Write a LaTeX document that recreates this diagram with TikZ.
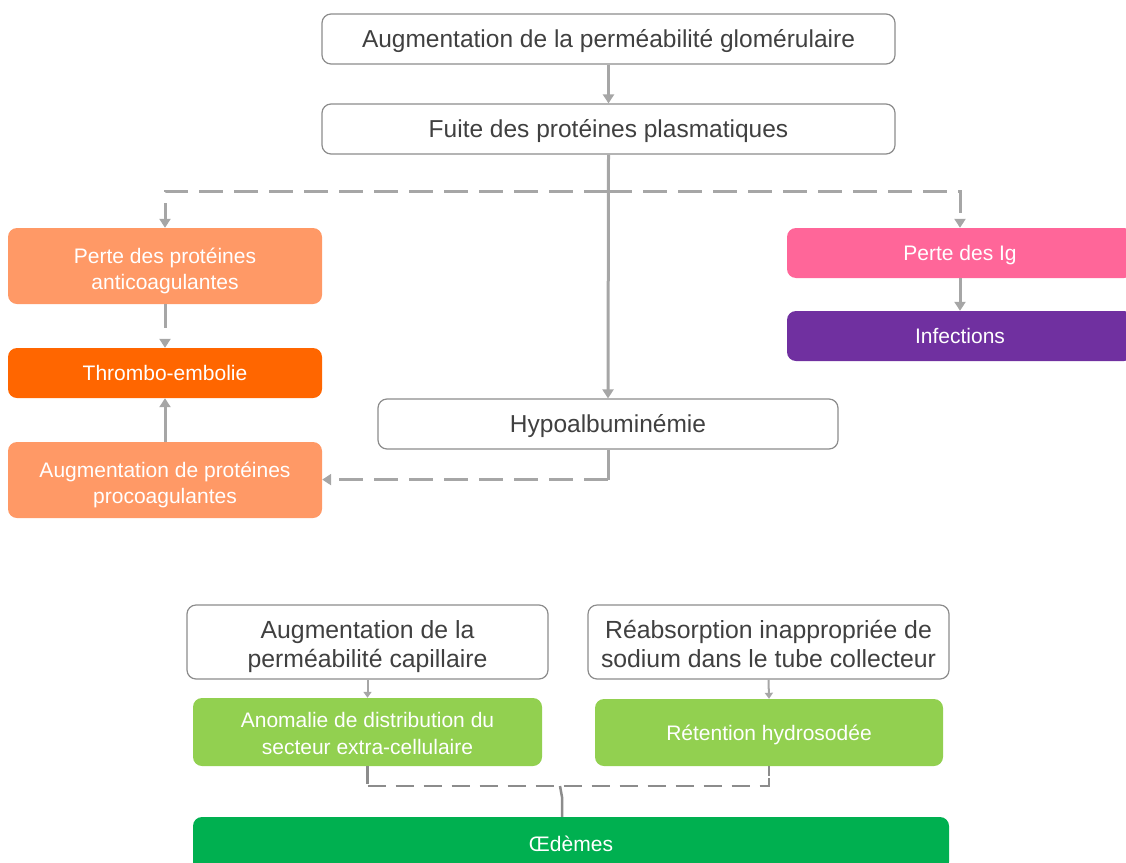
\documentclass[tikz,border=0pt]{standalone}
\usepackage{fontspec}
\setmainfont{Liberation Sans}
\usetikzlibrary{arrows.meta}
\definecolor{arrgray}{HTML}{A6A6A6}
\definecolor{darkarr}{HTML}{8C8C8C}
\definecolor{bordergray}{HTML}{8C8C8C}
\definecolor{txtgray}{HTML}{404040}
\definecolor{salmon}{HTML}{FF9966}
\definecolor{orng}{HTML}{FF6600}
\definecolor{pinkc}{HTML}{FF6699}
\definecolor{purp}{HTML}{7030A0}
\definecolor{lgreen}{HTML}{92D050}
\definecolor{dgreen}{HTML}{00B050}
\begin{document}
\begin{tikzpicture}[x=1pt,y=-1pt,
  wbox/.style={draw=bordergray, line width=1.2pt, rounded corners=9pt, fill=white, text=txtgray, font=\fontsize{24.5}{29.5}\selectfont, inner sep=0pt, align=center,
    execute at begin node={\rule{0pt}{24.5pt}}, execute at end node={\rule[-7pt]{0pt}{7pt}}},
  cbox/.style={rounded corners=9pt, text=white, font=\fontsize{21}{25.5}\selectfont, inner sep=0pt, align=center,
    execute at begin node={\rule{0pt}{21pt}}, execute at end node={\rule[-6pt]{0pt}{6pt}}},
  arr/.style={draw=arrgray, line width=3pt, -{Triangle[width=11pt,length=9pt]}},
  dsh/.style={arr, dash pattern=on 24pt off 11pt},
  arrs/.style={draw=arrgray, line width=2pt, -{Triangle[width=8pt,length=6pt]}},
  dshb/.style={draw=darkarr, line width=2.5pt, dash pattern=on 18pt off 10pt},
  linb/.style={draw=darkarr, line width=2.5pt}]
\useasboundingbox (0,0) rectangle (1126,862);
\clip (0,0) rectangle (1126,862);
% top chain
\node[wbox, minimum width=573pt, minimum height=50pt] (top) at (608.5,39) {Augmentation de la perméabilité glomérulaire};
\node[wbox, minimum width=573pt, minimum height=50pt] (fuite) at (608.5,129) {Fuite des protéines plasmatiques};
\node[wbox, minimum width=460pt, minimum height=50pt] (hypo) at (608,424) {Hypoalbuminémie};
% left column
\node[cbox, fill=salmon, minimum width=314pt, minimum height=76pt] (anti) at (165,266) {\rule{0pt}{26.5pt}Perte des protéines\\anticoagulantes};
\node[cbox, fill=orng, minimum width=314pt, minimum height=50pt] (thr) at (165,373) {Thrombo-embolie};
\node[cbox, fill=salmon, minimum width=314pt, minimum height=76pt] (pro) at (165,480) {\rule{0pt}{26.5pt}Augmentation de protéines\\procoagulantes};
% right column
\node[cbox, fill=pinkc, minimum width=346pt, minimum height=50pt] (ig) at (960,253) {Perte des Ig};
\node[cbox, fill=purp, minimum width=346pt, minimum height=50pt] (inf) at (960,336) {Infections};
% bottom
\node[wbox, font=\fontsize{24.8}{29.5}\selectfont, minimum width=361pt, minimum height=74pt] (cap) at (367.5,642) {\rule{0pt}{28.8pt}Augmentation de la\\perméabilité capillaire};
\node[wbox, font=\fontsize{24.8}{29.5}\selectfont, minimum width=361pt, minimum height=74pt] (reab) at (768.5,642) {\rule{0pt}{28.8pt}Réabsorption inappropriée de\\sodium dans le tube collecteur};
\node[cbox, font=\fontsize{21}{27}\selectfont, fill=lgreen, minimum width=349pt, minimum height=68pt] (anom) at (367.5,732) {\rule{0pt}{24.5pt}Anomalie de distribution du\\secteur extra-cellulaire};
\node[cbox, fill=lgreen, minimum width=348pt, minimum height=67pt] (ret) at (769,732.5) {Rétention hydrosodée};
\node[cbox, fill=dgreen, minimum width=756pt, minimum height=54pt] (oed) at (571,844) {Œdèmes};
% connectors
\draw[arr] (top.south) -- (fuite.north);
\draw[arr] (fuite.south) -- (hypo.north);
\coordinate (split) at (608,191);
\draw[dsh] (split) -| (anti.north);
\draw[dsh] (split) -| (ig.north);
\draw[dsh] (anti.south) -- (thr.north);
\draw[arr] (pro.north) -- (thr.south);
\draw[dsh] (ig.south) -- (inf.north);
\draw[arrgray, line width=3pt] (hypo.south) -- ++(0,30) coordinate (hc);
\draw[dsh] (hc) -- (hc -| pro.east);
\draw[arrs] (cap.south) -- (anom.north);
\draw[arrs] (reab.south) -- (ret.north);
\draw[linb] (anom.south) -- ++(0,10);
\draw[linb] (ret.south) -- ++(0,10);
\draw[dshb] (anom.south) ++(0,20) coordinate (bl) -- (bl -| ret.south) -- (ret.south);
\draw[dshb] (anom.south) -- (bl);
\coordinate (j) at (560,786);
\coordinate (k) at (562,797);
\draw[linb] (j) -- (k) -- (k |- oed.north);
\end{tikzpicture}
\end{document}
